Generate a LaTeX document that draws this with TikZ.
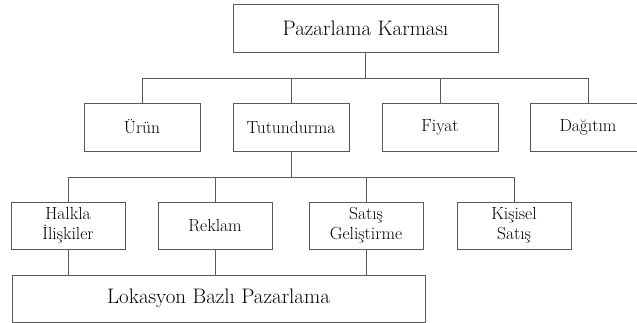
\documentclass[tikz,border=0pt]{standalone}
\usepackage{fontspec}
\begin{document}
\begin{tikzpicture}[x=1pt,y=-1pt,
  box/.style={draw=black!65, line width=0.9pt, inner sep=0pt, align=center, text=black},
  lvltwo/.style={box, minimum width=116pt, minimum height=48pt, font=\rmfamily\fontsize{17.5}{20}\selectfont},
  lvlthree/.style={box, minimum width=114pt, minimum height=47pt, font=\rmfamily\fontsize{17.5}{20}\selectfont},
  bigbox/.style={box, font=\rmfamily\fontsize{21}{24}\selectfont},
  conn/.style={draw=black!65, line width=0.9pt}]
\useasboundingbox (0,0) rectangle (637,323);
% top
\node[bigbox, minimum width=265pt, minimum height=48pt] (top) at (365.5,28) {Pazarlama Karması};
% level 2
\node[lvltwo] (urun) at (142,127) {Ürün};
\node[lvltwo] (tut)  at (291,127) {Tutundurma};
\node[lvltwo] (fiy)  at (440,127) {Fiyat};
\node[lvltwo] (dag)  at (588,127) {Dağıtım};
% level 3
\node[lvlthree] (halk) at (68,225.5)  {Halkla\\İlişkiler};
\node[lvlthree] (rek)  at (215,225.5) {Reklam};
\node[lvlthree] (sat)  at (366,225.5) {Satış\\Geliştirme};
\node[lvlthree] (kis)  at (514,225.5) {Kişisel\\Satış};
% bottom
\node[bigbox, minimum width=413pt, minimum height=47pt] (lok) at (218.5,298.5) {Lokasyon Bazlı Pazarlama};
% buses
\coordinate (busa) at (0,78);
\coordinate (busb) at (0,177);
\draw[conn] (top.south) -- (top.south |- busa);
\draw[conn] (urun.north) -- (urun.north |- busa) -- (dag.north |- busa) -- (dag.north);
\draw[conn] (tut.north) -- (tut.north |- busa);
\draw[conn] (fiy.north) -- (fiy.north |- busa);
\draw[conn] (tut.south) -- (tut.south |- busb);
\draw[conn] (halk.north) -- (halk.north |- busb) -- (kis.north |- busb) -- (kis.north);
\draw[conn] (rek.north) -- (rek.north |- busb);
\draw[conn] (sat.north) -- (sat.north |- busb);
\draw[conn] (halk.south) -- (halk.south |- lok.north);
\draw[conn] (rek.south) -- (rek.south |- lok.north);
\draw[conn] (sat.south) -- (sat.south |- lok.north);
\end{tikzpicture}
\end{document}
